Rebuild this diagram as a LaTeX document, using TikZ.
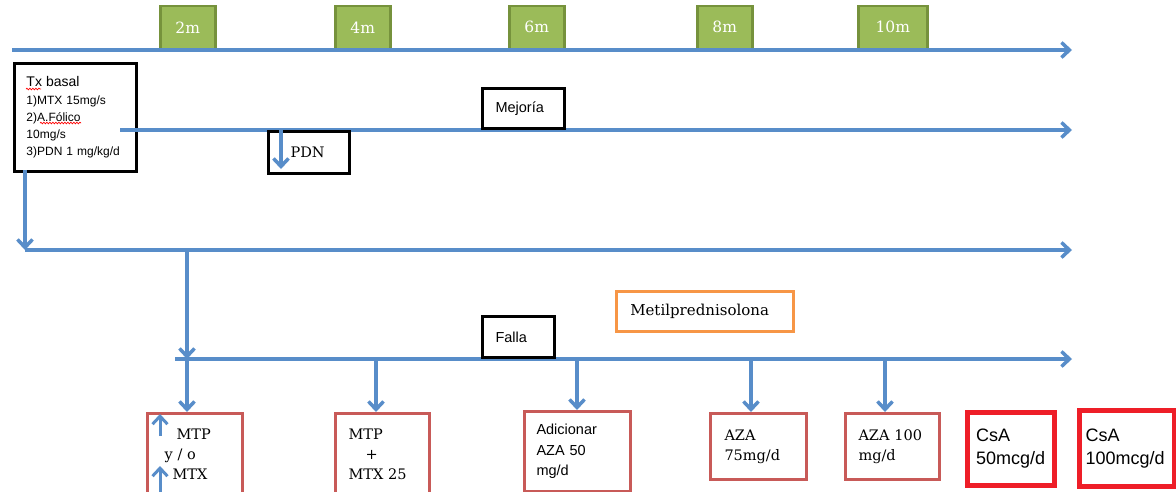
\documentclass[tikz,border=0pt]{standalone}
\usepackage{fontspec}
\setmainfont{DejaVu Serif}
\setsansfont{Liberation Sans}
\usetikzlibrary{arrows.meta, decorations.pathmorphing}

\definecolor{linea}{RGB}{88,141,201}
\definecolor{verde}{RGB}{155,187,89}
\definecolor{verdeosc}{RGB}{118,146,60}
\definecolor{rojo}{RGB}{200,90,88}
\definecolor{naranja}{RGB}{247,150,70}
\definecolor{rojovivo}{RGB}{238,30,40}

\begin{document}
\begin{tikzpicture}[x=1pt, y=-1pt,
	flecha/.style={draw=linea, line width=3.5pt, -{Straight Barb[length=8pt,width=15pt]}},
	mes/.style={rectangle, draw=verdeosc, line width=2.5pt, fill=verde, text=white, font=\fontsize{15.5}{18}\selectfont, minimum width=55pt, minimum height=43pt, anchor=south west},
	caja/.style={rectangle, draw=black, line width=3pt, fill=white, font=\sffamily\fontsize{14.5}{17}\selectfont, align=left, inner ysep=0pt},
	tratam/.style={rectangle, draw=rojo, line width=3pt, fill=white, font=\fontsize{14.5}{20}\selectfont, align=left, inner ysep=0pt, anchor=north west},
	csa/.style={rectangle, draw=rojovivo, line width=5pt, fill=white, font=\sffamily\fontsize{18}{23}\selectfont, align=left, inner ysep=0pt, anchor=north west}]
	\useasboundingbox (0,0) rectangle (1176,491);
	\clip (0,0) rectangle (1176,491);
%%%% meses
	\node[mes] (m2) at (159,50) {2m};
	\node[mes] (m4) at (334,50) {4m};
	\node[mes] (m6) at (508,50) {6m};
	\node[mes] (m8) at (696,50) {8m};
	\node[mes, minimum width=69pt] (m10) at (857,50) {10m};
	\coordinate (t0) at (12,50);
	\coordinate (t1) at (1072,50);
	\draw[flecha] (t0) -- (t1);
%%%% tratamiento basal
	\node[caja, anchor=north west, minimum width=122pt, minimum height=108pt, inner xsep=12pt, text width=98pt, font=\sffamily\fontsize{12}{17.3}\selectfont] (tx) at (13,62)
	{{\fontsize{14}{17.3}\selectfont Tx basal}\\1)MTX 15mg/s\\2)A.Fólico\\10mg/s\\3)PDN 1 mg/kg/d};
	\draw[red, line width=0.7pt, decorate, decoration={snake, amplitude=0.8pt, segment length=3pt}] (26,89) -- (41,89);
	\draw[red, line width=0.7pt, decorate, decoration={snake, amplitude=0.8pt, segment length=3pt}] (40,123) -- (81,123);
%%%% mejoria
	\coordinate (r0) at (120,130);
	\coordinate (r1) at (1072,130);
	\draw[flecha] (r0) -- (r1);
	\node[caja, anchor=south west, minimum width=82pt, minimum height=40pt, inner xsep=13pt, text width=56pt] (mej) at (481,130) {Mejoría};
	\node[caja, anchor=north west, minimum width=81pt, minimum height=42pt, inner xsep=22pt, text width=37pt, font=\fontsize{14.5}{17}\selectfont] (pdn) at (267,130) {PDN};
	\coordinate (p0) at (281,130);
	\coordinate (p1) at (281,169);
	\draw[flecha] (p0) -- (p1);
%%%% falla
	\coordinate (a0) at (25,170);
	\coordinate (b0) at (25,250);
	\coordinate (b1) at (1072,250);
	\draw[flecha] (a0) -- (b0);
	\draw[flecha] (b0) -- (b1);
	\coordinate (c0) at (187,250);
	\coordinate (c1) at (187,359);
	\draw[flecha] (c0) -- (c1);
	\coordinate (f0) at (175,359);
	\coordinate (f1) at (1072,359);
	\draw[flecha] (f0) -- (f1);
	\node[caja, anchor=south west, minimum width=72pt, minimum height=41pt, inner xsep=13pt, text width=46pt] (fal) at (481,359) {Falla};
	\node[caja, draw=naranja, line width=2.5pt, anchor=north west, minimum width=177pt, minimum height=40pt, inner xsep=14pt, text width=149pt, font=\fontsize{15}{17}\selectfont] (met) at (615,290) {Metilprednisolona};
%%%% opciones
	\node[tratam, minimum width=95pt, minimum height=82pt, inner xsep=17pt, text width=61pt] (mtp) at (146,412)
	{\hspace*{12pt}MTP\\y / o\\\hspace*{8pt}MTX};
	\node[tratam, minimum width=94pt, minimum height=82pt, inner xsep=13pt, text width=68pt] (mtx) at (334,412)
	{MTP\\\hspace*{17pt}+\\MTX 25};
	\node[tratam, minimum width=106pt, minimum height=80pt, inner xsep=12pt, text width=82pt, font=\sffamily\fontsize{14.5}{20.5}\selectfont] (adi) at (523,410)
	{Adicionar\\AZA 50\\mg/d};
	\node[tratam, minimum width=96pt, minimum height=66pt, inner xsep=14pt, text width=68pt] (aza1) at (709,412) {AZA\\75mg/d};
	\node[tratam, minimum width=94pt, minimum height=66pt, inner xsep=13pt, text width=68pt] (aza2) at (844,412) {AZA 100\\mg/d};
	\node[csa, minimum width=87pt, minimum height=73pt, inner xsep=8.5pt, text width=70pt] (csa1) at (965,410) {CsA\\50mcg/d};
	\node[csa, minimum width=95pt, minimum height=76pt, inner xsep=6pt, text width=83pt] (csa2) at (1077,408) {CsA\\100mcg/d};
	\draw[flecha] (c1) -- (c1 |- mtp.north);
	\coordinate (d1) at (376,359);
	\coordinate (d2) at (577,359);
	\coordinate (d3) at (751,359);
	\coordinate (d4) at (885,359);
	\draw[flecha] (d1) -- (d1 |- mtx.north);
	\draw[flecha] (d2) -- (d2 |- adi.north);
	\draw[flecha] (d3) -- (d3 |- aza1.north);
	\draw[flecha] (d4) -- (d4 |- aza2.north);
%%%% aumentos
	\coordinate (u0) at (160,436);
	\coordinate (u1) at (160,414);
	\coordinate (u2) at (160,495);
	\coordinate (u3) at (160,466);
	\draw[flecha, line width=3pt] (u0) -- (u1);
	\draw[flecha, line width=3pt] (u2) -- (u3);
\end{tikzpicture}
\end{document}
